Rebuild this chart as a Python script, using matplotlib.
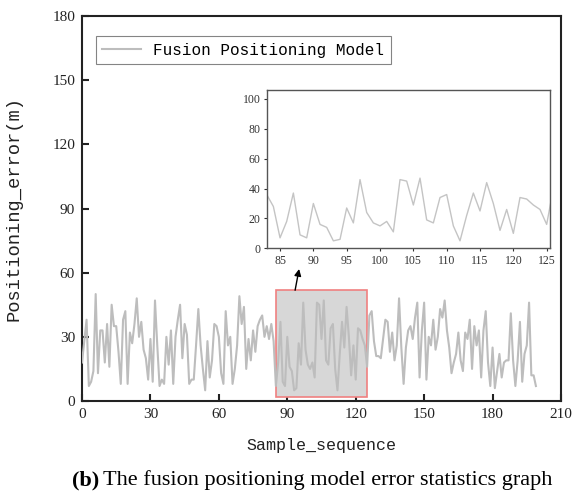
import matplotlib
matplotlib.use("Agg")
import matplotlib.pyplot as plt
from matplotlib.patches import Rectangle

# positioning error per sample
error = [
    18, 28, 38, 7, 9, 14, 50, 13, 33, 33,
    18, 36, 16, 45, 35, 35, 23, 8, 38, 42,
    8, 32, 27, 36, 48, 30, 37, 24, 20, 10,
    29, 9, 47, 26, 7, 10, 8, 30, 17, 33,
    8, 30, 38, 45, 20, 36, 31, 8, 10, 10,
    26, 43, 26, 15, 5, 28, 11, 19, 36, 35,
    30, 13, 8, 42, 26, 30, 8, 15, 26, 49,
    36, 44, 15, 29, 19, 33, 23, 35, 38, 40,
    30, 35, 29, 36, 28, 7, 18, 37, 9, 7,
    30, 16, 14, 5, 6, 27, 17, 46, 24, 17,
    15, 18, 11, 46, 45, 29, 47, 19, 17, 34,
    36, 15, 5, 22, 37, 25, 44, 30, 12, 26,
    10, 34, 33, 29, 26, 16, 40, 42, 28, 21,
    21, 20, 29, 38, 37, 23, 32, 19, 26, 48,
    25, 8, 25, 33, 35, 29, 39, 46, 11, 33,
    46, 10, 30, 26, 38, 24, 30, 43, 39, 47,
    33, 25, 13, 18, 22, 32, 19, 14, 32, 29,
    38, 15, 35, 26, 33, 11, 33, 42, 18, 7,
    25, 6, 14, 22, 11, 18, 19, 19, 41, 19,
    7, 19, 37, 9, 22, 26, 46, 12, 12, 7,
]
samples = list(range(len(error)))

# zoomed window
zoom_start, zoom_end = 85, 125
inset_start, inset_end = 83, 126

series_label = "Fusion Positioning Model"
xlabel = "Sample_sequence"
ylabel = "Positioning_error(m)"
main_xticks = [0, 30, 60, 90, 120, 150, 180, 210]
main_yticks = [0, 30, 60, 90, 120, 150, 180]
inset_xticks = [85, 90, 95, 100, 105, 110, 115, 120, 125]
inset_yticks = [0, 20, 40, 60, 80, 100]

serif = "Liberation Serif"
mono = "Liberation Mono"

fig = plt.figure(figsize=(5.72, 4.94), dpi=100)
ax = fig.add_axes([82 / 572, 93 / 494, 479 / 572, 385 / 494])

ax.plot(samples, error, color="#bdbdbd", linewidth=1.5, label=series_label, zorder=3)

# highlighted region
win = error[zoom_start:zoom_end + 1]
ax.add_patch(Rectangle((zoom_start, min(win) - 3), zoom_end - zoom_start,
                       max(win) - min(win) + 8,
                       facecolor="#d7d7d7", edgecolor="#f08080", linewidth=1.2, zorder=2))

ax.set_xlim(0, 210)
ax.set_ylim(0, 180)
ax.set_xticks(main_xticks)
ax.set_yticks(main_yticks)
ax.tick_params(direction="in", length=5, width=1.5, pad=5, labelsize=11, colors="#222222")
for lab in ax.get_xticklabels() + ax.get_yticklabels():
    lab.set_fontfamily(serif)
for s in ax.spines.values():
    s.set_linewidth(1.5)
    s.set_color("#222222")

ax.set_xlabel(xlabel, fontfamily=mono, fontsize=12, color="#222222")
ax.set_ylabel(ylabel, fontfamily=mono, fontsize=13.5, color="#222222")
ax.xaxis.set_label_coords(0.5, -0.095)
ax.yaxis.set_label_coords(-0.125, 0.5)

leg = ax.legend(loc="upper left", bbox_to_anchor=(0.029, 0.947), borderaxespad=0,
                fancybox=False, edgecolor="#666666", handlelength=2.4,
                prop={"family": mono, "size": 11.5})
leg.get_frame().set_linewidth(0.8)

# arrow from highlighted region to inset
ax.annotate("", xy=(95.4, 63), xytext=(93.2, 50.5),
            arrowprops=dict(arrowstyle="-|>", color="black", lw=1.0, mutation_scale=10))

# inset
axin = fig.add_axes([266.7 / 572, (494 - 248.3) / 494, 283.3 / 572, 158.3 / 494])
axin.plot(samples[inset_start:inset_end + 1], error[inset_start:inset_end + 1],
          color="#c4c4c4", linewidth=1.0)
axin.set_xlim(83, 125.5)
axin.set_ylim(0, 106)
axin.set_xticks(inset_xticks)
axin.set_yticks(inset_yticks)
axin.tick_params(direction="out", length=2.5, width=0.8, pad=2, labelsize=8.5, colors="#333333")
for lab in axin.get_xticklabels() + axin.get_yticklabels():
    lab.set_fontfamily(serif)
for s in axin.spines.values():
    s.set_linewidth(1.0)
    s.set_color("#555555")

# caption
cap_b = fig.text(72 / 572, 14 / 494, "(b)", fontfamily=serif, fontweight="bold",
                 fontsize=16, va="center", ha="left")
fig.canvas.draw()
bb = cap_b.get_window_extent()
fig.text(bb.x1 / fig.bbox.width + 4 / 572, 14 / 494,
         "The fusion positioning model error statistics graph",
         fontfamily=serif, fontsize=16, va="center", ha="left")

fig.savefig("out.png", dpi=100)
plt.close(fig)
